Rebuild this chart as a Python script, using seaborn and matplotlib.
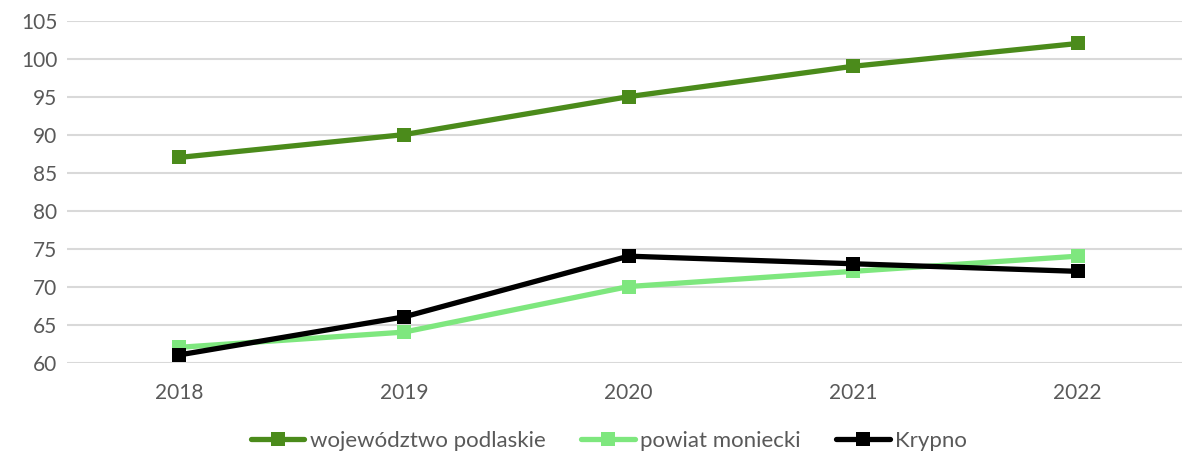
import pandas as pd
import matplotlib.pyplot as plt
import seaborn as sns
from matplotlib.lines import Line2D

sns.set_style("white")
plt.rcParams['font.family'] = ['Lato', 'DejaVu Sans']

years = ['2018', '2019', '2020', '2021', '2022']
wojewodztwo = [87, 90, 95, 99, 102]
powiat = [62, 64, 70, 72, 74]
krypno = [61, 66, 74, 73, 72]
series_names = ['województwo podlaskie', 'powiat moniecki', 'Krypno']
colors = ['#4B8B1B', '#7EE77E', '#000000']

df = pd.DataFrame({'rok': years * 3,
                   'wartosc': wojewodztwo + powiat + krypno,
                   'seria': [s for s in series_names for _ in years]})

fig = plt.figure(figsize=(11.82, 4.54), dpi=100)
ax = fig.add_axes([67 / 1182, (454 - 362.5) / 454, (1190 - 67) / 1182, (362.5 - 20.7) / 454])

sns.lineplot(data=df, x='rok', y='wartosc', hue='seria', palette=colors,
             marker='s', markersize=10, markeredgewidth=0, linewidth=3.8,
             legend=False, ax=ax, sort=False)

ax.set_xlim(-0.5, 4.5)
ax.set_ylim(60, 105)
ax.set_yticks(range(60, 106, 5))
ax.yaxis.grid(True, color='#D9D9D9', linewidth=1.5)
ax.set_axisbelow(True)
for sp in ax.spines.values():
    sp.set_visible(False)
ax.set_xlabel('')
ax.set_ylabel('')
ax.tick_params(axis='both', colors='#595959', labelsize=15, length=0)
ax.tick_params(axis='x', pad=15)
ax.tick_params(axis='y', pad=7)

handles = [Line2D([0], [0], color=c, linewidth=3.8, marker='s', markersize=10,
                  markeredgewidth=0, solid_capstyle='round') for c in colors]
fig.legend(handles, series_names, loc='center', bbox_to_anchor=(609 / 1182, 1 - 441 / 454),
           ncol=3, frameon=False, fontsize=16, labelcolor='#595959',
           handlelength=2.4, handletextpad=0.25, columnspacing=1.6)

fig.savefig('out.png', dpi=100)
